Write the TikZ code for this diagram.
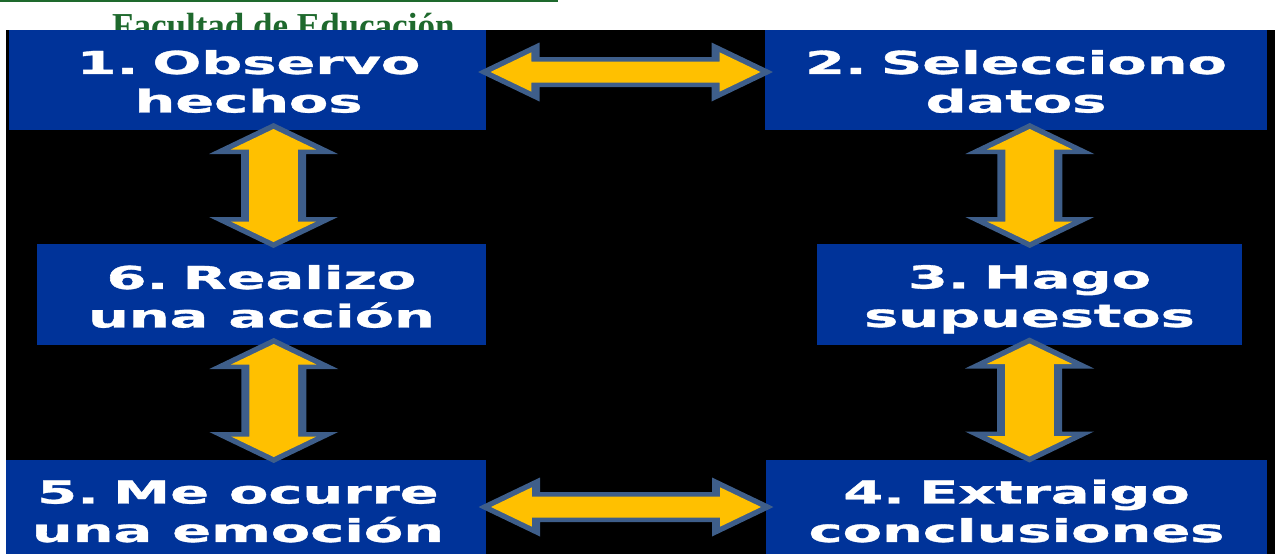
\documentclass[tikz,border=0pt]{standalone}
\usepackage{fontspec}
\usepackage{graphicx}
\usetikzlibrary{calc}
\newfontfamily\boxfont{DejaVu Sans}[BoldFeatures={FakeBold=1}]
\newfontfamily\hdrfont{Liberation Serif}
\definecolor{boxblue}{RGB}{0,51,153}
\definecolor{arrgold}{RGB}{255,192,0}
\definecolor{arrsteel}{RGB}{62,94,138}
\definecolor{hdrgreen}{RGB}{30,105,45}
\newcommand\boxtext[2]{\scalebox{1.82}[1]{\begin{tabular}{@{}c@{}}#1\\#2\end{tabular}}}
\newcommand\nsp{\hspace{-0.1em}\ }
\tikzset{
  box/.style={rectangle, fill=boxblue, draw=none, inner sep=0pt},
  txt/.style={font={\boxfont\bfseries\fontsize{31.5}{38.5}\selectfont}, text=white, inner sep=0pt, anchor=north},
  hdarrow/.pic={
    \fill[arrsteel] (147.5,0) -- (86,-29.5) -- (86,-15) -- (-86,-15) -- (-86,-29.5) -- (-147.5,0)
      -- (-86,29.5) -- (-86,15) -- (86,15) -- (86,29.5) -- cycle;
    \fill[arrgold] (135,0) -- (94.2,-19.6) -- (94.2,-10.5) -- (-94.2,-10.5) -- (-94.2,-19.6) -- (-135,0)
      -- (-94.2,19.6) -- (-94.2,10.5) -- (94.2,10.5) -- (94.2,19.6) -- cycle;
  },
  vdarrow/.pic={
    \fill[arrsteel] (0,-62.5) -- (64.5,-31.5) -- (32.5,-31.5) -- (32.5,31.5) -- (64.5,31.5) -- (0,62.5)
      -- (-64.5,31.5) -- (-32.5,31.5) -- (-32.5,-31.5) -- (-64.5,-31.5) -- cycle;
    \fill[arrgold] (0,-56.5) -- (42.7,-36) -- (24.3,-36) -- (24.3,36) -- (42.7,36) -- (0,56.5)
      -- (-42.7,36) -- (-24.3,36) -- (-24.3,-36) -- (-42.7,-36) -- cycle;
  }
}
\begin{document}
\begin{tikzpicture}[x=1pt,y=-1pt]
\useasboundingbox (0,0) rectangle (1275,554);
\fill[white] (0,0) rectangle (1275,554);
% header
\fill[hdrgreen] (0,0) rectangle (558,2.2);
\node[anchor=base west, inner sep=0pt, font={\hdrfont\bfseries\fontsize{35}{40}\selectfont}, text=hdrgreen] (hdr) at (112,37.5) {Facultad de Educación};
% black slide area
\fill[black] (6,30) rectangle (1275,554);
% boxes
\node[box, minimum width=477pt, minimum height=100pt] (b1) at (247.5,80) {};
\node[box, minimum width=502pt, minimum height=100pt] (b2) at (1016,80) {};
\node[box, minimum width=449pt, minimum height=101pt] (b6) at (261.5,294.5) {};
\node[box, minimum width=425pt, minimum height=101pt] (b3) at (1029.5,294.5) {};
\node[box, minimum width=480pt, minimum height=94pt] (b5) at (246,507) {};
\node[box, minimum width=501pt, minimum height=94pt] (b4) at (1016.5,507) {};
% texts
\node[txt] (t1) at ($(b1.north)+(1,17)$) {\boxtext{1.\nsp Observo}{hechos}};
\node[txt] (t2) at ($(b2.north)+(0,17)$) {\boxtext{2.\nsp Selecciono}{datos}};
\node[txt] (t6) at ($(b6.north)+(0,18)$) {\boxtext{6.\nsp Realizo}{una acción}};
\node[txt] (t3) at ($(b3.north)+(0,17.5)$) {\boxtext{3.\nsp Hago}{supuestos}};
\node[txt] (t5) at ($(b5.north)+(-8,16.5)$) {\boxtext{5.\nsp Me ocurre}{una emoción}};
\node[txt] (t4) at ($(b4.north)+(0,16.5)$) {\boxtext{4.\nsp Extraigo}{conclusiones}};
% arrows
\pic (a12) at ($(b1.east)!0.5!(b2.west)+(0,-8)$) {hdarrow};
\pic (a54) at ($(b5.east)!0.5!(b4.west)$) {hdarrow};
\pic (a16) at ($(b1.south)!0.5!(b6.north)+(19,-1.5)$) {vdarrow};
\pic (a65) at ($(b6.south)!0.5!(b5.north)+(20,-2)$) {vdarrow};
\pic (a23) at ($(b2.south)!0.5!(b3.north)+(7,-1.5)$) {vdarrow};
\pic (a34) at ($(b3.south)!0.5!(b4.north)+(6.5,-2.5)$) {vdarrow};
\end{tikzpicture}
\end{document}
